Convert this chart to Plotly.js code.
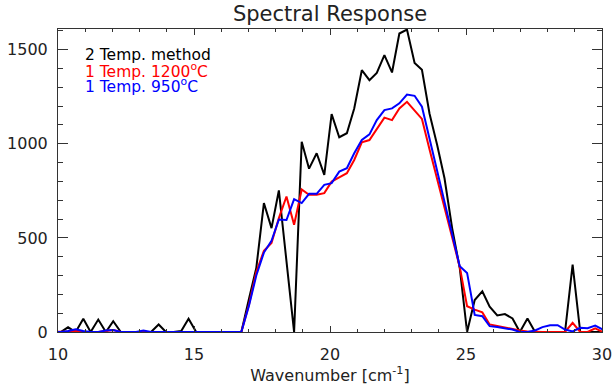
<!DOCTYPE html>
<html>
<head>
<meta charset="utf-8">
<script src="https://cdn.plot.ly/plotly-3.0.1.min.js"></script>
<style>html,body{margin:0;padding:0;background:#fff;} #chart{width:613px;height:387px;}</style>
</head>
<body>
<div id="chart"></div>
<script>
const wavenumber = [9.82, 10.10, 10.37, 10.65, 10.93, 11.20, 11.48, 11.76, 12.03, 12.31, 12.59, 12.87, 13.14, 13.42, 13.70, 13.97, 14.25, 14.53, 14.80, 15.08, 15.36, 15.63, 15.91, 16.19, 16.46, 16.74, 17.02, 17.29, 17.57, 17.85, 18.12, 18.40, 18.68, 18.96, 19.23, 19.51, 19.79, 20.06, 20.34, 20.62, 20.89, 21.17, 21.45, 21.72, 22.00, 22.28, 22.55, 22.83, 23.11, 23.38, 23.66, 23.94, 24.21, 24.49, 24.77, 25.04, 25.32, 25.60, 25.87, 26.15, 26.43, 26.71, 26.98, 27.26, 27.54, 27.81, 28.09, 28.37, 28.64, 28.92, 29.20, 29.47, 29.75, 30.03];

const twoTempMethod = [0, 0, 25, 0, 70, 0, 66, 0, 57, 0, 0, 0, 0, 0, 40, 0, 0, 5, 70, 0, 0, 0, 0, 0, 0, 0, 175, 340, 685, 552, 752, 375, 0, 1011, 868, 950, 835, 1158, 1035, 1056, 1188, 1391, 1338, 1377, 1471, 1379, 1586, 1607, 1430, 1393, 1160, 994, 817, 552, 340, 0, 170, 216, 134, 88, 95, 72, 0, 72, 0, 0, 0, 0, 0, 358, 0, 0, 0, 0];

const oneTemp1200 = [0, 0, 3, 6, 0, 0, 0, 5, 10, 0, 0, 0, 0, 0, 0, 0, 0, 0, 0, 0, 0, 0, 0, 0, 0, 0, 145, 318, 432, 473, 605, 720, 570, 757, 729, 729, 738, 799, 821, 844, 914, 1008, 1020, 1082, 1139, 1126, 1188, 1223, 1179, 1132, 970, 817, 660, 503, 346, 137, 119, 104, 40, 31, 22, 17, 8, 3, 0, 0, 0, 0, 0, 49, 0, 0, 19, 0];

const oneTemp950 = [0, 0, 5, 15, 5, 0, 0, 8, 10, 0, 0, 0, 8, 0, 0, 0, 0, 0, 0, 0, 0, 0, 0, 0, 0, 0, 140, 300, 422, 485, 598, 595, 706, 685, 734, 734, 782, 791, 852, 870, 950, 1020, 1050, 1126, 1179, 1188, 1215, 1262, 1255, 1197, 1027, 857, 688, 518, 349, 314, 91, 84, 31, 26, 19, 13, 0, 0, 8, 26, 36, 36, 13, 3, 22, 20, 34, 13];

const seriesNames = ["2 Temp. method", "1 Temp. 1200<sup>o</sup>C", "1 Temp. 950<sup>o</sup>C"];
const seriesColors = ["#000000", "#ff0000", "#0000ff"];
const seriesValues = [twoTempMethod, oneTemp1200, oneTemp950];

const xTickVals = [10, 15, 20, 25, 30];
const yTickVals = [0, 500, 1000, 1500];

const FONT = "DejaVu Sans, Liberation Sans, Arial, sans-serif";

const traces = seriesValues.map((vals, i) => ({
  type: "scatter",
  mode: "lines",
  x: wavenumber,
  y: vals,
  name: seriesNames[i],
  line: {color: seriesColors[i], width: 2},
  hoverinfo: "skip"
}));

const legendY = [0.913, 0.862, 0.812];
const annotations = seriesNames.map((t, i) => ({
  text: t,
  xref: "paper", yref: "paper",
  x: 0.046, y: legendY[i],
  xanchor: "left", yanchor: "middle",
  showarrow: false,
  font: {family: FONT, size: 15.5, color: seriesColors[i]}
}));

const axisCommon = {
  showline: true, linecolor: "#333", linewidth: 1,
  mirror: "allticks",
  ticks: "inside", tickcolor: "#333", tickwidth: 1,
  showgrid: false, zeroline: false,
  tickfont: {family: FONT, size: 16, color: "#222"}
};

const layout = {
  width: 613, height: 387,
  margin: {l: 58, r: 11, t: 29, b: 55},
  paper_bgcolor: "#fff", plot_bgcolor: "#fff",
  showlegend: false,
  title: {
    text: "Spectral Response",
    font: {family: FONT, size: 21, color: "#222"},
    xref: "paper", x: 0.5, xanchor: "center",
    yref: "container", y: 0.966, yanchor: "middle"
  },
  xaxis: Object.assign({}, axisCommon, {
    range: [10, 30],
    tickvals: xTickVals,
    ticktext: xTickVals.map(String),
    ticklen: 6,
    ticklabelstandoff: 8,
    minor: {dtick: 1, ticks: "inside", ticklen: 3, tickcolor: "#333", tickwidth: 1},
    title: {text: "Wavenumber [cm<sup>-1</sup>]", font: {family: FONT, size: 16, color: "#222"}, standoff: 6}
  }),
  yaxis: Object.assign({}, axisCommon, {
    range: [0, 1610],
    tickvals: yTickVals,
    ticktext: yTickVals.map(String),
    ticklen: 10,
    ticklabelstandoff: 6,
    minor: {dtick: 100, ticks: "inside", ticklen: 5, tickcolor: "#333", tickwidth: 1}
  }),
  annotations: annotations
};

Plotly.newPlot("chart", traces, layout, {staticPlot: true, displayModeBar: false});
</script>
</body>
</html>
